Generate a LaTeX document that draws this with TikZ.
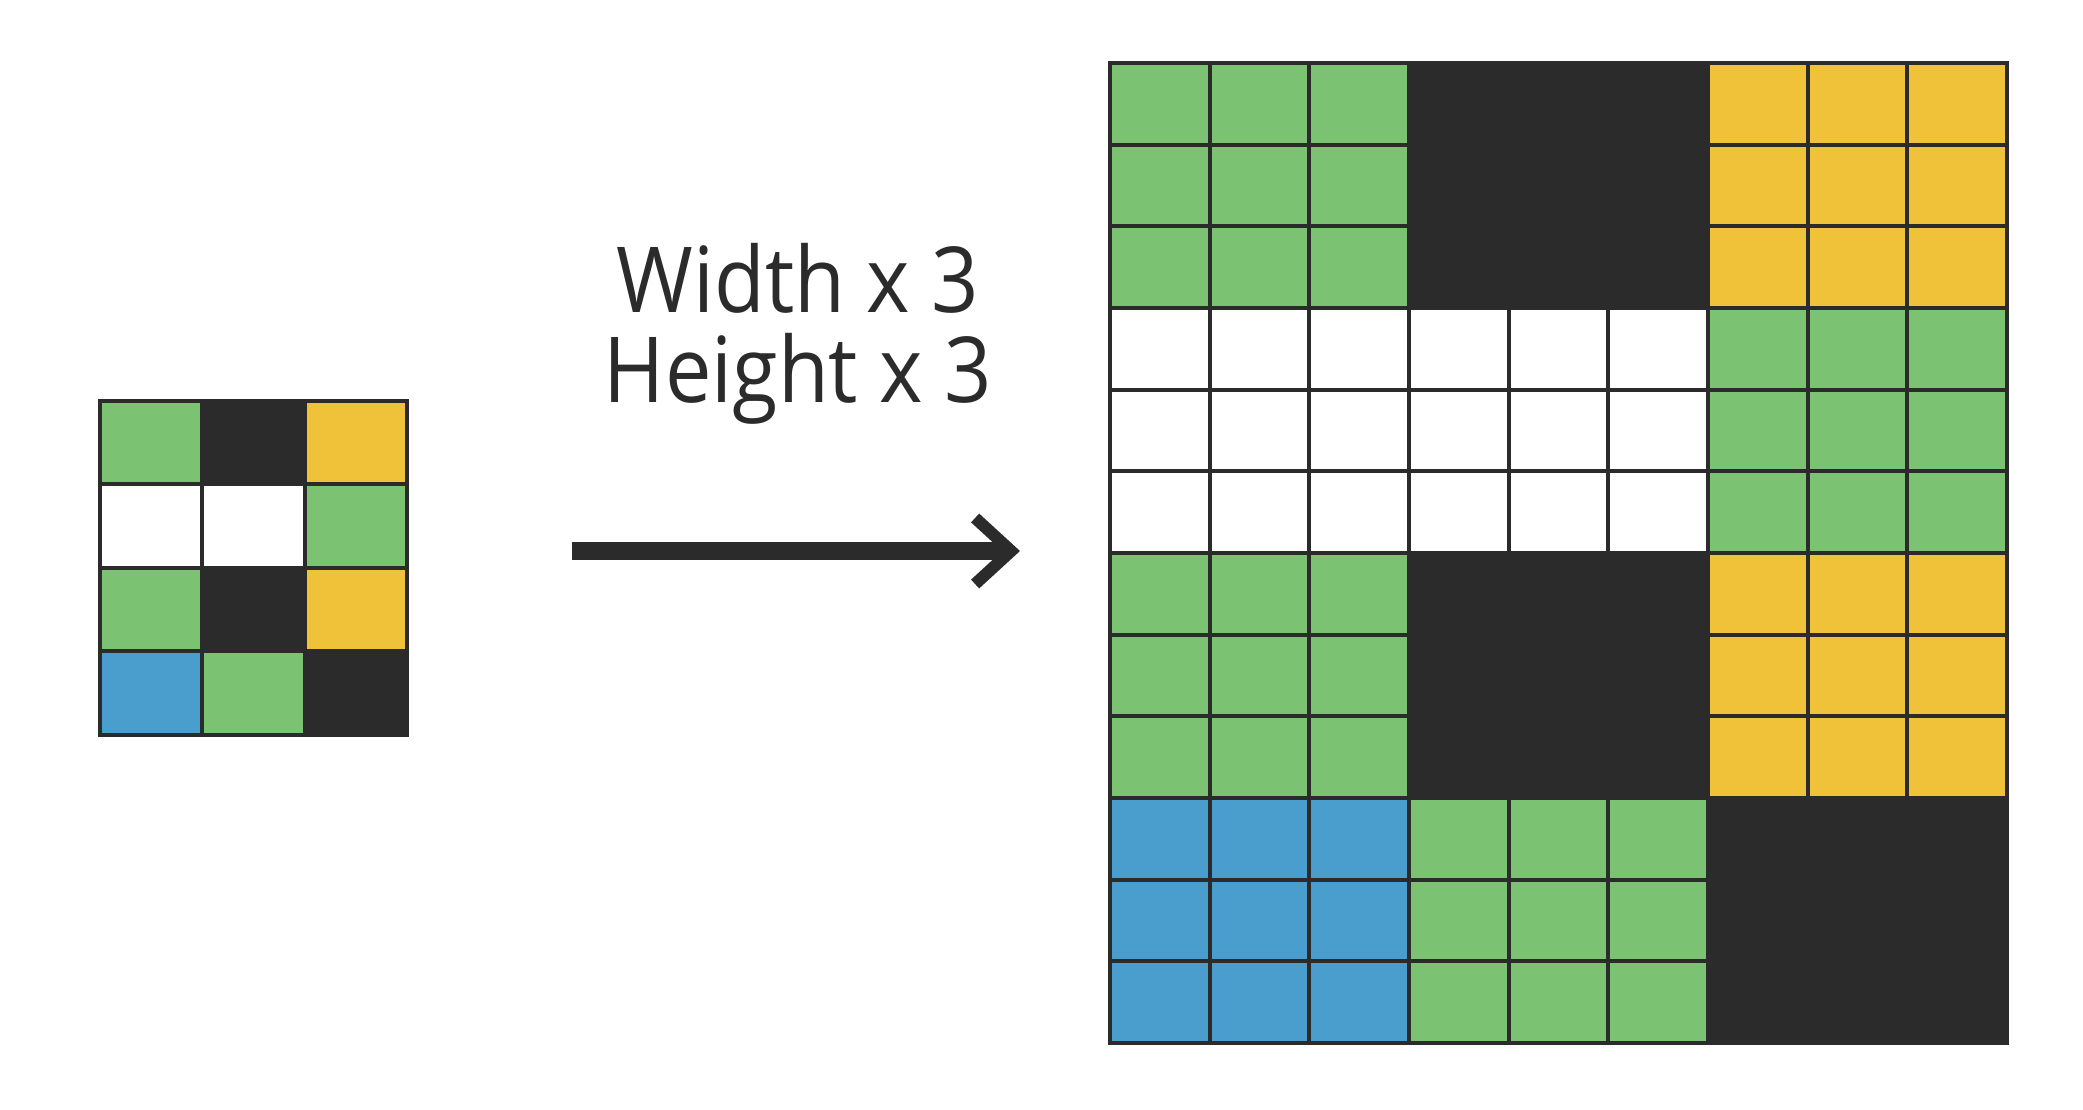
\documentclass[tikz,border=0pt]{standalone}
\usepackage{fontspec}
\newfontfamily\labelfont[FakeStretch=0.91]{Open Sans}
\usetikzlibrary{positioning,arrows.meta}
\definecolor{cgreen}{HTML}{7BC272}
\definecolor{cdark}{HTML}{2B2B2B}
\definecolor{cyellow}{HTML}{F0C23A}
\definecolor{cblue}{HTML}{4A9ECE}
\tikzset{
  cell/.style       = {draw=cdark, line width=0.04cm, inner sep=0pt, outer sep=0pt},
  smallcell/.style  = {cell, minimum width=1.023cm, minimum height=0.835cm},
  bigcell/.style    = {cell, minimum width=0.997cm, minimum height=0.817cm},
  scalelabel/.style = {inner sep=0pt, align=center, text=cdark,
                       font=\labelfont\fontsize{25.9}{25.8}\selectfont},
  >={Straight Barb[length=0.36cm, width=0.66cm, line width=0.12cm]}
}

\begin{document}
\begin{tikzpicture}[x=0.01cm, y=-0.01cm]
    \useasboundingbox (0,0) rectangle (2083,1110);

    % input image (4 rows, 3 columns) and its 3x3 upscaled copy
    \foreach \row [count=\r from 0] in
      {{cgreen,cdark,cyellow},{white,white,cgreen},
       {cgreen,cdark,cyellow},{cblue,cgreen,cdark}}{
      \foreach \col [count=\k from 0] in \row {
        \node[smallcell, fill=\col] (s-\r-\k)
          at ({100+102.33*(\k+0.5)}, {401+83.5*(\r+0.5)}) {};
        \foreach \i in {0,1,2}{
          \foreach \j in {0,1,2}{
            \pgfmathtruncatemacro\br{3*\r+\i}
            \pgfmathtruncatemacro\bk{3*\k+\j}
            \node[bigcell, fill=\col] (b-\br-\bk)
              at ({1110+99.67*(\bk+0.5)}, {63+81.67*(\br+0.5)}) {};
          }
        }
      }
    }

    % scaling arrow
    \coordinate (arrfrom) at (572,551);
    \coordinate (arrto)   at (1020,551);
    \draw[->, cdark, line width=0.17cm] (arrfrom) -- (arrto);

    % scale factors
    \node[scalelabel, anchor=base] (factors) at (798,403)
      {Width x 3\\Height x 3};
\end{tikzpicture}
\end{document}
